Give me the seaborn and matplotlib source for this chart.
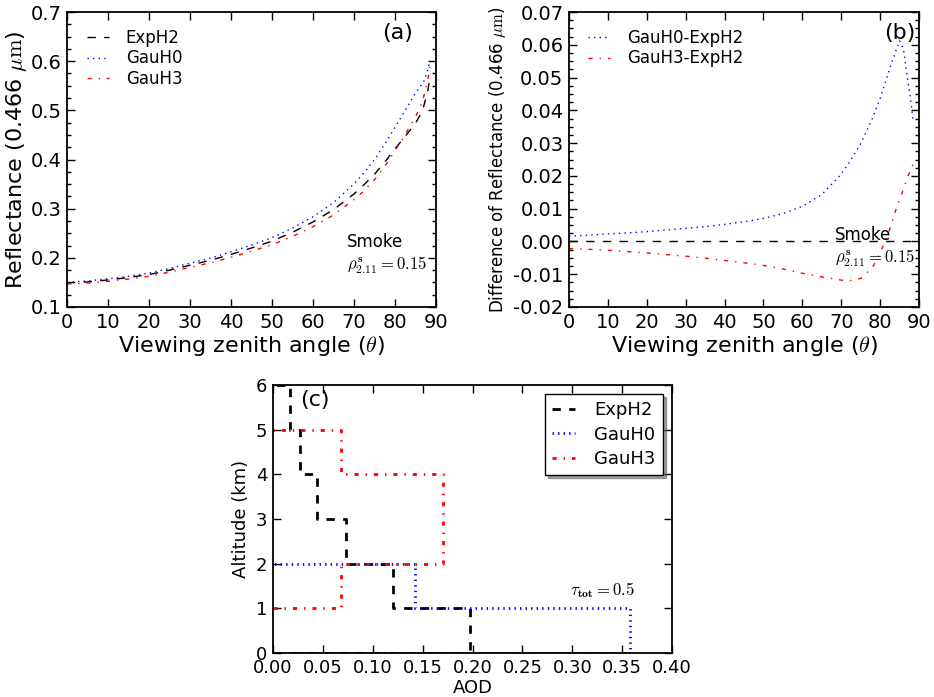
import numpy as np
import matplotlib
matplotlib.use("Agg")
import matplotlib.pyplot as plt
import seaborn as sns
from matplotlib.ticker import MultipleLocator, FormatStrFormatter

# ---------------- data ----------------
angles = [0, 5, 10, 15, 20, 25, 30, 35, 40, 45, 50, 55, 60, 65, 70, 72, 75,
          78, 80, 82, 84, 85, 86, 87, 88, 88.5]
refl_exph2 = [0.149, 0.151, 0.155, 0.160, 0.166, 0.175, 0.185, 0.195, 0.207,
              0.220, 0.234, 0.252, 0.273, 0.298, 0.330, 0.345, 0.370, 0.400,
              0.422, 0.442, 0.463, 0.474, 0.488, 0.508, 0.540, 0.565]
diff_gauh0 = [0.0016, 0.0019, 0.0023, 0.0026, 0.0030, 0.0035, 0.0040, 0.0045,
              0.0052, 0.0060, 0.0070, 0.0085, 0.0107, 0.0143, 0.0205, 0.0240,
              0.0298, 0.0375, 0.0436, 0.0510, 0.0580, 0.0612, 0.0588, 0.0500,
              0.0420, 0.0365]
diff_gauh3 = [-0.0022, -0.0024, -0.0027, -0.0031, -0.0035, -0.0040, -0.0045,
              -0.0051, -0.0058, -0.0065, -0.0073, -0.0084, -0.0097, -0.0108,
              -0.0118, -0.0120, -0.0113, -0.0080, -0.0035, 0.0020, 0.0095,
              0.0128, 0.0160, 0.0195, 0.0222, 0.0235]

# AOD profiles (layer boundaries in km, AOD per layer)
exph2_layers = [0, 1, 2, 3, 4, 5, 6]
exph2_aod = [0.197, 0.120, 0.073, 0.044, 0.027, 0.0167]
gauh0_layers = [0, 1, 2]
gauh0_aod = [0.358, 0.142]
gauh3_layers = [1, 2, 3, 4, 5]
gauh3_aod = [0.068, 0.170, 0.170, 0.068]

names = ["ExpH2", "GauH0", "GauH3"]
diff_names = ["GauH0-ExpH2", "GauH3-ExpH2"]

# ---------------- style ----------------
plt.rcParams.update({
    "font.family": ["DejaVu Sans"],
    "mathtext.fontset": "cm",
    "xtick.direction": "in",
    "ytick.direction": "in",
    "xtick.top": True,
    "ytick.right": True,
    "xtick.major.size": 6,
    "ytick.major.size": 6,
    "xtick.minor.size": 3,
    "ytick.minor.size": 3,
    "xtick.major.width": 1.0,
    "ytick.major.width": 1.0,
    "xtick.minor.width": 1.0,
    "ytick.minor.width": 1.0,
    "axes.linewidth": 1.3,
    "lines.scale_dashes": False,
    "axes.unicode_minus": True,
})

DASH = (0, (6, 6))
DOT = (0, (1, 3))
DASHDOT = (0, (3, 5, 1, 5))

ang = np.array(angles)
exp = np.array(refl_exph2)
g0 = exp + np.array(diff_gauh0)
g3 = exp + np.array(diff_gauh3)

W, H = 934, 697
fig = plt.figure(figsize=(W / 100, H / 100), dpi=100)

def px_axes(l, t, r, b):
    return fig.add_axes([l / W, 1 - b / H, (r - l) / W, (b - t) / H])

# ---------------- panel (a) ----------------
axa = px_axes(67, 12, 436, 307)
sns.lineplot(x=ang, y=exp, ax=axa, color="k", lw=1.0, linestyle=DASH,
             estimator=None, label=names[0])
sns.lineplot(x=ang, y=g0, ax=axa, color="b", lw=1.0, linestyle=DOT,
             estimator=None, label=names[1])
sns.lineplot(x=ang, y=g3, ax=axa, color="r", lw=1.0, linestyle=DASHDOT,
             estimator=None, label=names[2])
axa.set_xlim(0, 90)
axa.set_ylim(0.1, 0.7)
axa.xaxis.set_major_locator(MultipleLocator(10))
axa.yaxis.set_major_locator(MultipleLocator(0.1))
axa.yaxis.set_minor_locator(MultipleLocator(0.025))
axa.tick_params(labelsize=14, pad=4)
axa.set_xlabel(r"Viewing zenith angle ($\theta$)", fontsize=16, labelpad=2)
axa.set_ylabel(r"Reflectance (0.466 $\mu\mathrm{m}$)", fontsize=16, labelpad=1)
axa.legend(loc="upper left", bbox_to_anchor=(0.035, 0.965), borderaxespad=0,
           frameon=False, fontsize=12, handlelength=1.35, handletextpad=1.0,
           labelspacing=0.15)
axa.text(0.897, 0.929, "(a)", transform=axa.transAxes, fontsize=16,
         ha="center", va="center")
axa.text(0.759, 0.220, "Smoke", transform=axa.transAxes, fontsize=12,
         ha="left", va="center")
axa.text(0.759, 0.142, r"$\rho_{2.11}^{\mathbf{s}}=0.15$", transform=axa.transAxes,
         fontsize=12, ha="left", va="center")

# ---------------- panel (b) ----------------
axb = px_axes(569, 12, 919, 307)
axb.axhline(0, color="k", lw=1.0, linestyle=DASH)
sns.lineplot(x=ang, y=g0 - exp, ax=axb, color="b", lw=1.0, linestyle=DOT,
             estimator=None, label=diff_names[0])
sns.lineplot(x=ang, y=g3 - exp, ax=axb, color="r", lw=1.0, linestyle=DASHDOT,
             estimator=None, label=diff_names[1])
axb.set_xlim(0, 90)
axb.set_ylim(-0.02, 0.07)
axb.xaxis.set_major_locator(MultipleLocator(10))
axb.yaxis.set_major_locator(MultipleLocator(0.01))
axb.yaxis.set_minor_locator(MultipleLocator(0.0025))
axb.yaxis.set_major_formatter(FormatStrFormatter("%.2f"))
axb.tick_params(labelsize=14, pad=4)
axb.set_xlabel(r"Viewing zenith angle ($\theta$)", fontsize=16, labelpad=2)
axb.set_ylabel(r"Difference of Reflectance (0.466 $\mu\mathrm{m}$)", fontsize=12,
               labelpad=4)
axb.legend(loc="upper left", bbox_to_anchor=(0.034, 0.965), borderaxespad=0,
           frameon=False, fontsize=12, handlelength=1.35, handletextpad=1.0,
           labelspacing=0.15)
axb.text(0.946, 0.929, "(b)", transform=axb.transAxes, fontsize=16,
         ha="center", va="center")
axb.text(0.76, 0.244, "Smoke", transform=axb.transAxes, fontsize=12,
         ha="left", va="center")
axb.text(0.76, 0.166, r"$\rho_{2.11}^{\mathbf{s}}=0.15$", transform=axb.transAxes,
         fontsize=12, ha="left", va="center")

# ---------------- panel (c) ----------------
def profile_path(layers, aod):
    xs, ys = [0.0], [layers[0]]
    for i, a in enumerate(aod):
        xs += [a, a]
        ys += [layers[i], layers[i + 1]]
    xs.append(0.0)
    ys.append(layers[len(aod)])
    return xs, ys

axc = px_axes(273, 385, 672, 653)
x1, y1 = profile_path(exph2_layers, exph2_aod)
x2, y2 = profile_path(gauh0_layers, gauh0_aod)
x3, y3 = profile_path(gauh3_layers, gauh3_aod)
sns.lineplot(x=x1, y=y1, ax=axc, color="k", lw=2.0, linestyle=DASH,
             sort=False, estimator=None, label=names[0])
sns.lineplot(x=x2, y=y2, ax=axc, color="b", lw=2.0, linestyle=DOT,
             sort=False, estimator=None, label=names[1])
sns.lineplot(x=x3, y=y3, ax=axc, color="r", lw=2.0, linestyle=DASHDOT,
             sort=False, estimator=None, label=names[2])
axc.set_xlim(0, 0.4)
axc.set_ylim(0, 6)
axc.xaxis.set_major_locator(MultipleLocator(0.05))
axc.xaxis.set_major_formatter(FormatStrFormatter("%.2f"))
axc.yaxis.set_major_locator(MultipleLocator(1))
axc.tick_params(labelsize=13, pad=4)
axc.set_xlabel("AOD", fontsize=13, labelpad=2)
axc.set_ylabel("Altitude (km)", fontsize=13, labelpad=4)
axc.legend(loc="upper right", fontsize=13, handlelength=1.3, handletextpad=1.05,
           frameon=True, fancybox=False, shadow=True, edgecolor="k",
           framealpha=1, borderaxespad=0.5, labelspacing=0.35)
axc.text(0.068, 0.944, "(c)", transform=axc.transAxes, fontsize=16,
         ha="left", va="center")
axc.text(0.298, 1.41, r"$\tau_{\mathbf{tot}}=0.5$", fontsize=12,
         ha="left", va="center")

fig.savefig("out.png", dpi=100)
